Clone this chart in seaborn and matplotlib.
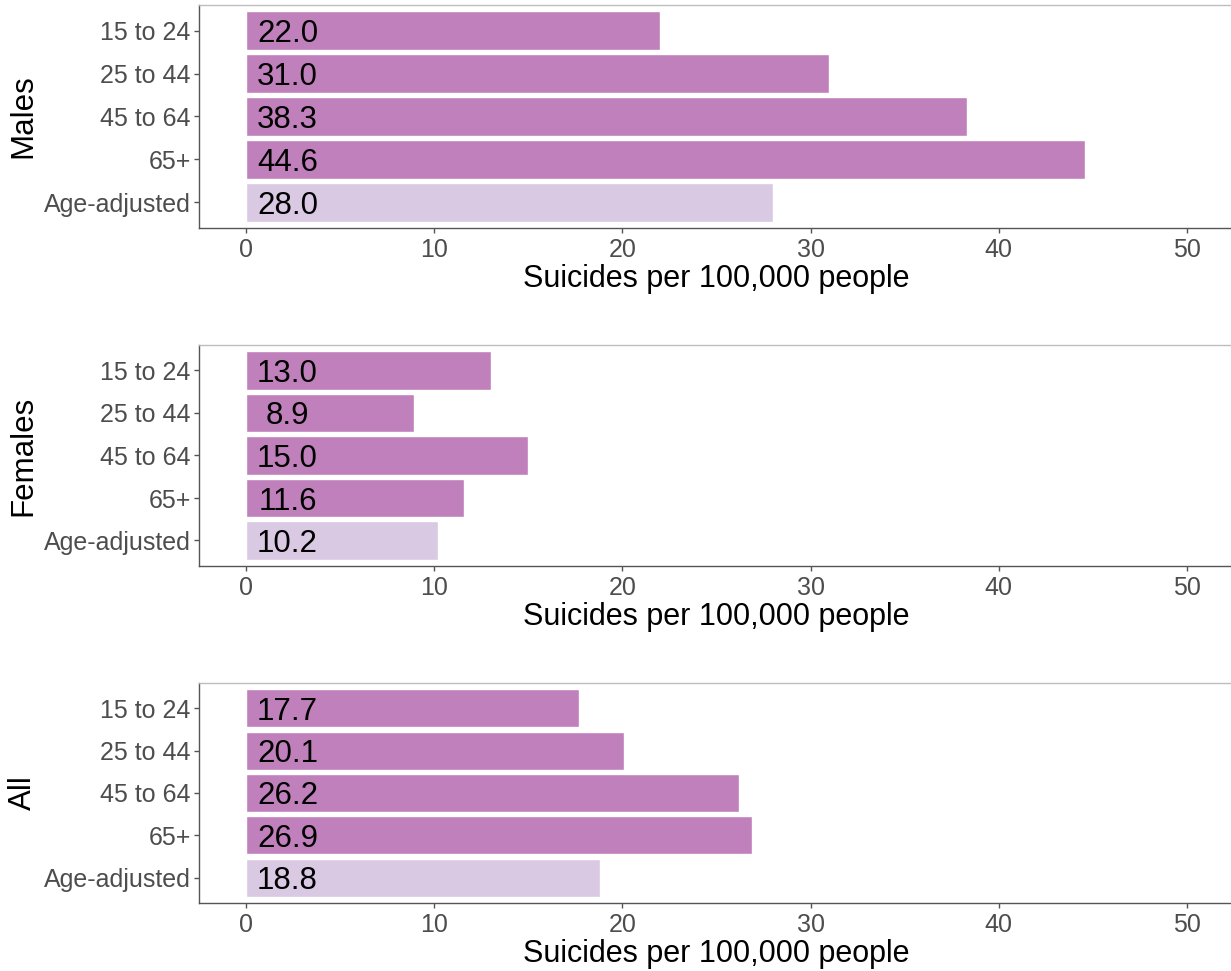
import matplotlib
matplotlib.use("Agg")
import matplotlib.pyplot as plt
import seaborn as sns
import pandas as pd

sns.set_style("white")
plt.rcParams['font.family'] = ['Liberation Sans', 'DejaVu Sans']

groups = ["Males", "Females", "All"]
ages = ["15 to 24", "25 to 44", "45 to 64", "65+", "Age-adjusted"]
males = [22.0, 31.0, 38.3, 44.6, 28.0]
females = [13.0, 8.9, 15.0, 11.6, 10.2]
all_people = [17.7, 20.1, 26.2, 26.9, 18.8]
kinds = ["age", "age", "age", "age", "adjusted"]
xticks = [0, 10, 20, 30, 40, 50]
xlabel = "Suicides per 100,000 people"

series = {"Males": males, "Females": females, "All": all_people}
rows = []
for g in groups:
    for a, v, k in zip(ages, series[g], kinds):
        rows.append({"group": g, "age": a, "value": v, "kind": k})
df = pd.DataFrame(rows)

palette = {"age": "#BF80BB", "adjusted": "#D9C9E3"}

W, H = 1231, 971
fig = plt.figure(figsize=(W / 100, H / 100), dpi=100)
panels = [(5, 228), (345, 566), (683, 903)]
left_px, right_px = 199, 1234

for g, (top, bot) in zip(groups, panels):
    ax = fig.add_axes([left_px / W, 1 - bot / H, (right_px - left_px) / W, (bot - top) / H])
    sub = df[df["group"] == g]
    sns.barplot(data=sub, y="age", x="value", hue="kind", palette=palette,
                dodge=False, width=0.9, legend=False, ax=ax, orient="h",
                order=ages, saturation=1)
    for i, v in enumerate(sub["value"]):
        ax.text(2.2, i, f"{v:.1f}", ha="center", va="center_baseline",
                fontsize=22.5, color="black")
    ax.set_xlim(-2.5, 52.5)
    ax.set_ylim(4.6, -0.6)
    ax.set_xticks(xticks)
    ax.set_xticklabels([str(t) for t in xticks])
    ax.set_xlabel(xlabel, fontsize=22, color="black", labelpad=1)
    ax.set_ylabel(g, fontsize=22.5, color="black", labelpad=4)
    ax.tick_params(axis="both", which="both", length=3.5, width=1, color="#555555",
                   labelcolor="#4D4D4D", labelsize=18, left=True, bottom=True)
    ax.tick_params(axis="y", pad=2.5)
    ax.tick_params(axis="x", pad=4)
    for s in ["left", "bottom"]:
        ax.spines[s].set_color("#555555")
        ax.spines[s].set_linewidth(1.0)
    for s in ["top", "right"]:
        ax.spines[s].set_color("#BDBDBD")
        ax.spines[s].set_linewidth(1.0)

fig.savefig("out.png", dpi=100)
